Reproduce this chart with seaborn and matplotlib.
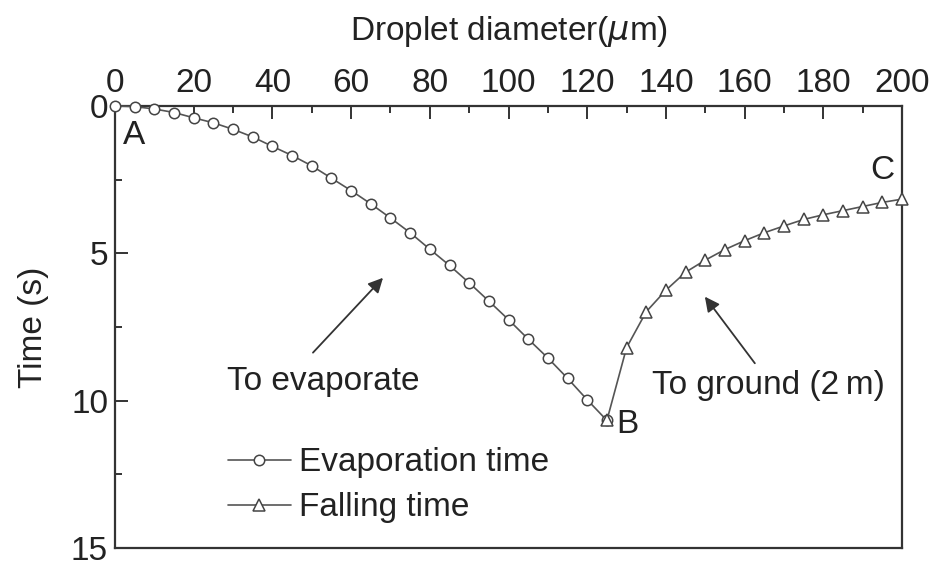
import matplotlib
matplotlib.use("Agg")
import matplotlib.pyplot as plt
import seaborn as sns
import pandas as pd
from matplotlib.ticker import MultipleLocator

# ---- data ----
evap_diameter = [0, 5, 10, 15, 20, 25, 30, 35, 40, 45, 50, 55, 60, 65, 70, 75,
                 80, 85, 90, 95, 100, 105, 110, 115, 120, 125]
evap_time = [0.0, 0.02, 0.1, 0.22, 0.4, 0.57, 0.79, 1.05, 1.37, 1.68, 2.03, 2.45,
             2.87, 3.32, 3.8, 4.3, 4.86, 5.41, 6.0, 6.62, 7.25, 7.91, 8.55, 9.24,
             9.97, 10.67]
fall_diameter = [125, 130, 135, 140, 145, 150, 155, 160, 165, 170, 175, 180,
                 185, 190, 195, 200]
fall_time = [10.67, 8.2, 6.98, 6.25, 5.64, 5.23, 4.87, 4.57, 4.3, 4.07, 3.85,
             3.69, 3.55, 3.41, 3.27, 3.16]
x_ticks = [0, 20, 40, 60, 80, 100, 120, 140, 160, 180, 200]
y_ticks = [0, 5, 10, 15]

sns.set_theme(style="white")
plt.rcParams['font.family'] = ['Liberation Sans', 'DejaVu Sans']

evap = pd.DataFrame({"d": evap_diameter, "t": evap_time})
fall = pd.DataFrame({"d": fall_diameter, "t": fall_time})

fig = plt.figure(figsize=(9.3, 5.67), dpi=100)
ax = fig.add_axes([0.1237, 0.0335, 0.8462, 0.7795])

FS = 24
line_c = "#555555"
edge_c = "#444444"
sns.lineplot(data=evap, x="d", y="t", ax=ax, color=line_c, linewidth=1.2,
             marker="o", markersize=7.5, markerfacecolor="white",
             markeredgecolor=edge_c, markeredgewidth=1.1,
             label="Evaporation time", clip_on=False, zorder=5)
sns.lineplot(data=fall, x="d", y="t", ax=ax, color=line_c, linewidth=1.2,
             marker="^", markersize=8, markerfacecolor="white",
             markeredgecolor=edge_c, markeredgewidth=1.1,
             label="Falling time", clip_on=False, zorder=5)

ax.set_xlim(0, 200)
ax.set_ylim(15, 0)
ax.xaxis.tick_top()
ax.xaxis.set_label_position("top")
ax.set_xticks(x_ticks)
ax.set_yticks(y_ticks)
ax.xaxis.set_minor_locator(MultipleLocator(10))
ax.yaxis.set_minor_locator(MultipleLocator(2.5))
ax.tick_params(axis="both", which="major", direction="in", length=9, width=1.4,
               color="#333333", labelsize=FS, labelcolor="#222222", pad=5)
ax.tick_params(axis="both", which="minor", direction="in", length=5, width=1.4,
               color="#333333")
ax.tick_params(axis="x", which="both", top=True, bottom=False)
ax.tick_params(axis="y", which="both", left=True, right=False)

ax.set_xlabel("Droplet diameter($\\mu$m)", fontsize=FS, color="#222222", labelpad=20)
ax.set_ylabel("Time (s)", fontsize=FS, color="#222222", labelpad=16)

for s in ax.spines.values():
    s.set_visible(True)
    s.set_color("#333333")
    s.set_linewidth(1.6)

txt_c = "#222222"
ax.text(2, 1.0, "A", fontsize=FS, color=txt_c, ha="left", va="center")
ax.text(127.5, 10.8, "B", fontsize=FS, color=txt_c, ha="left", va="center")
ax.text(195, 2.2, "C", fontsize=FS, color=txt_c, ha="center", va="center")

ax.annotate("To evaporate", xy=(68.1, 5.83), xytext=(28.5, 9.35),
            fontsize=FS, color=txt_c, ha="left", va="center")
ax.annotate("", xy=(68.1, 5.83), xytext=(50.3, 8.37),
            arrowprops=dict(arrowstyle="-|>", color="#333333", lw=1.3,
                            mutation_scale=22, shrinkA=0, shrinkB=0))
ax.annotate("To ground (2\u2009m)", xy=(149.9, 6.47), xytext=(136.5, 9.47),
            fontsize=FS, color=txt_c, ha="left", va="center")
ax.annotate("", xy=(149.9, 6.47), xytext=(162.6, 8.73),
            arrowprops=dict(arrowstyle="-|>", color="#333333", lw=1.3,
                            mutation_scale=22, shrinkA=0, shrinkB=0))

leg = ax.legend(loc="upper left", bbox_to_anchor=(0.143, 0.228), frameon=False,
                fontsize=FS, handlelength=1.9, handletextpad=0.25,
                borderpad=0, borderaxespad=0, labelspacing=0.42)
for t in leg.get_texts():
    t.set_color(txt_c)

fig.savefig("out.png", dpi=100)
